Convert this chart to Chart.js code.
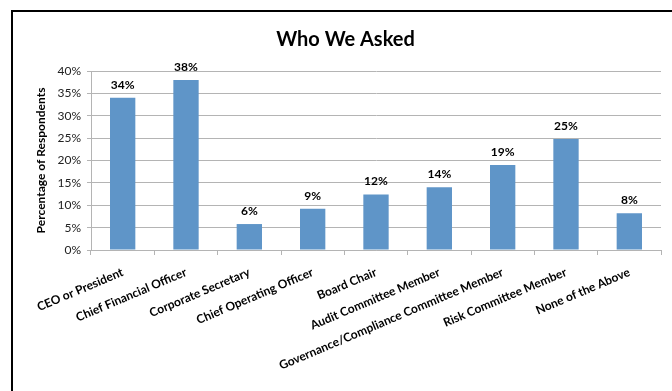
<!DOCTYPE html>
<html>
<head>
<meta charset="utf-8">
<title>Who We Asked</title>
<script src="https://cdn.jsdelivr.net/npm/chart.js@4.4.1/dist/chart.umd.min.js"></script>
<style>
  html, body { margin: 0; padding: 0; background: #fff; overflow: hidden; }
  #wrap { position: relative; width: 672px; height: 391px; }
  #frame {
    position: absolute; left: 11px; top: 10px;
    width: 720px; height: 440px;
    border: 2px solid #000;
  }
  #chart { position: absolute; left: 0; top: 0; }
</style>
</head>
<body>
<div id="wrap">
  <div id="frame"></div>
  <canvas id="chart" width="672" height="391"></canvas>
</div>
<script>
// Survey respondents by role (percent)
const roles = [
  'CEO or President',
  'Chief Financial Officer',
  'Corporate Secretary',
  'Chief Operating Officer',
  'Board Chair',
  'Audit Committee Member',
  'Governance/Compliance Committee Member',
  'Risk Committee Member',
  'None of the Above',
];
const shares = [34, 38, 5.8, 9.2, 12.4, 14, 19, 24.8, 8.2];
const yTicks = [0, 5, 10, 15, 20, 25, 30, 35, 40];

const FONT = "Lato, 'Open Sans', sans-serif";
const BAR_COLOR = '#5f95c8';
const GRID = '#b4b4b4';

// value labels above each bar
const barLabels = {
  id: 'barLabels',
  afterDatasetsDraw(chart) {
    const { ctx } = chart;
    const meta = chart.getDatasetMeta(0);
    ctx.save();
    ctx.font = `bold 12px ${FONT}`;
    ctx.fillStyle = '#000';
    ctx.textAlign = 'center';
    ctx.textBaseline = 'bottom';
    meta.data.forEach((bar, i) => {
      ctx.fillText(Math.round(shares[i]) + '%', bar.x, bar.y - 7);
    });
    ctx.restore();
  },
};

new Chart(document.getElementById('chart'), {
  type: 'bar',
  data: {
    labels: roles,
    datasets: [{
      data: shares,
      backgroundColor: BAR_COLOR,
      barPercentage: 0.4,
      categoryPercentage: 1,
    }],
  },
  options: {
    responsive: false,
    animation: false,
    layout: { padding: { left: 30, right: 11, top: 0, bottom: 0 } },
    plugins: {
      legend: { display: false },
      tooltip: { enabled: false },
      title: {
        display: true,
        text: 'Who We Asked',
        color: '#000',
        font: { family: FONT, size: 20, weight: 'bold' },
        padding: { top: 28, bottom: 19 },
      },
    },
    scales: {
      x: {
        offset: true,
        grid: { offset: true, drawOnChartArea: false, color: GRID, tickLength: 5 },
        border: { color: GRID },
        ticks: {
          color: '#000',
          font: { family: FONT, size: 12, weight: 'bold' },
          minRotation: 23,
          maxRotation: 23,
          autoSkip: false,
          padding: 10,
        },
        afterFit: (scale) => { scale.height = 141; },
      },
      y: {
        min: 0,
        max: 40,
        afterBuildTicks: (scale) => { scale.ticks = yTicks.map((v) => ({ value: v })); },
        grid: { color: GRID, tickLength: 4 },
        border: { color: GRID },
        ticks: {
          color: '#222',
          font: { family: FONT, size: 12 },
          padding: 6,
          callback: (v) => v + '%',
        },
        title: {
          display: true,
          text: 'Percentage of Respondents',
          color: '#000',
          font: { family: FONT, size: 12, weight: 'bold' },
          padding: { top: 4, bottom: 0 },
        },
        afterFit: (scale) => { scale.width = 61; },
      },
    },
  },
  plugins: [barLabels],
});
</script>
</body>
</html>
